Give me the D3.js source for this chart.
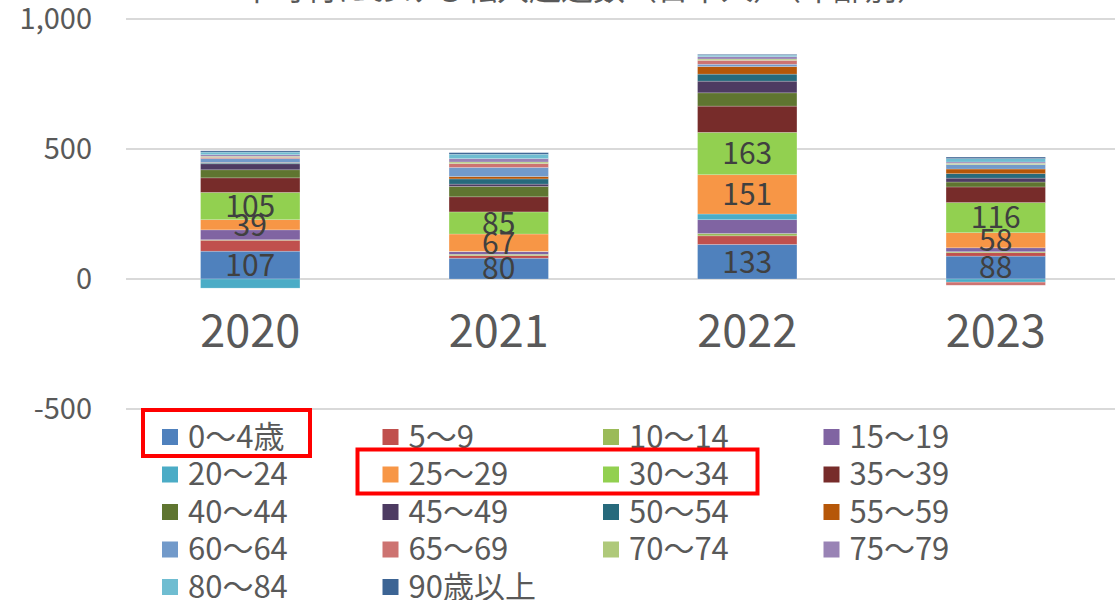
<!DOCTYPE html>
<html>
<head>
<meta charset="utf-8">
<script src="https://cdn.jsdelivr.net/npm/d3@7"></script>
<style>
  body { margin: 0; background: #fff; }
  text { font-family: "Noto Sans CJK JP", "Noto Sans", sans-serif; }
</style>
</head>
<body>
<script>
var years = ['2020', '2021', '2022', '2023'];
var ageGroups = ['0～4歳', '5～9', '10～14', '15～19', '20～24', '25～29', '30～34', '35～39',
  '40～44', '45～49', '50～54', '55～59', '60～64', '65～69', '70～74', '75～79', '80～84', '90歳以上'];
var colors = ['#4F81BD', '#C0504D', '#9BBB59', '#8064A2', '#4BACC6', '#F79646', '#92D050', '#772C2A',
  '#5F7530', '#4D3B62', '#276A7C', '#B65708', '#729ACA', '#CD7371', '#AFC97A', '#9983B5', '#6FBDD1', '#3C6494'];

// one array per age group, values for 2020..2023
var v0_4 = [107, 80, 133, 88];
var v5_9 = [42, 10, 33, 13];
var v10_14 = [2, 5, 9, 4];
var v15_19 = [38, 10, 53, 15];
var v20_24 = [-35, 1, 22, -12];
var v25_29 = [39, 67, 151, 58];
var v30_34 = [105, 85, 163, 116];
var v35_39 = [56, 58, 101, 60];
var v40_44 = [31, 40, 51, 19];
var v45_49 = [23, 9, 45, 15];
var v50_54 = [3, 20, 27, 17];
var v55_59 = [2, 9, 29, 18];
var v60_64 = [15, 35, 9, 17];
var v65_69 = [5, 15, 15, -12];
var v70_74 = [4, 6, 5, 5];
var v75_79 = [6, 13, 9, 5];
var v80_84 = [10, 17, 6, 13];
var v90plus = [5, 6, 3, 6];

var series = [v0_4, v5_9, v10_14, v15_19, v20_24, v25_29, v30_34, v35_39, v40_44,
  v45_49, v50_54, v55_59, v60_64, v65_69, v70_74, v75_79, v80_84, v90plus];
var labelled = [0, 5, 6]; // series that carry data labels

var yTicks = [-500, 0, 500, 1000];
var title = '市町村における転入超過数（日本人）（年齢別）';

var W = 1115, H = 600;
var svg = d3.select('body').append('svg')
  .attr('width', W)
  .attr('height', H);

var xScale = d3.scaleBand().domain(years).range([126, 1120]).paddingInner(0.6).paddingOuter(0.3);
var yScale = d3.scaleLinear().domain([-500, 1000]).range([409, 19]);

// table for d3.stack
var table = years.map(function(y, i) {
  var row = { year: y };
  series.forEach(function(s, k) { row[k] = s[i]; });
  return row;
});
var keys = series.map(function(s, k) { return k; });
var stacked = d3.stack().keys(keys).offset(d3.stackOffsetDiverging)(table);

// title (cut off at top in the reference)
svg.append('text')
  .attr('x', 585)
  .attr('y', 0)
  .attr('text-anchor', 'middle')
  .attr('font-size', 32)
  .attr('fill', '#595959')
  .text(title);

// grid lines
svg.append('g')
  .selectAll('line')
  .data(yTicks)
  .enter().append('line')
  .attr('x1', 126).attr('x2', W)
  .attr('y1', function(d) { return yScale(d); })
  .attr('y2', function(d) { return yScale(d); })
  .attr('stroke', '#d9d9d9')
  .attr('stroke-width', 2);

var fmt = d3.format(',');
var yAxis = svg.append('g')
  .attr('transform', 'translate(106,0)')
  .call(d3.axisLeft(yScale).tickValues(yTicks).tickSize(0).tickPadding(14)
    .tickFormat(function(d) { return fmt(d).replace('−', '-'); }));
yAxis.select('.domain').remove();
yAxis.selectAll('text')
  .attr('font-size', 29)
  .attr('fill', '#595959')
  .attr('font-family', '"Noto Sans CJK JP", sans-serif');

// bars
var layers = svg.append('g').selectAll('g')
  .data(stacked)
  .enter().append('g')
  .attr('fill', function(d) { return colors[d.key]; });

layers.selectAll('rect')
  .data(function(d) { return d; })
  .enter().append('rect')
  .attr('x', function(d) { return xScale(d.data.year); })
  .attr('width', xScale.bandwidth())
  .attr('y', function(d) { return yScale(Math.max(d[0], d[1])); })
  .attr('height', function(d) { return Math.abs(yScale(d[0]) - yScale(d[1])); })
  .attr('stroke', '#fff')
  .attr('stroke-opacity', 0.35)
  .attr('stroke-width', 0.6);

// data labels
labelled.forEach(function(k) {
  svg.append('g').selectAll('text')
    .data(stacked[k])
    .enter().append('text')
    .attr('x', function(d) { return xScale(d.data.year) + xScale.bandwidth() / 2; })
    .attr('y', function(d) { return yScale((d[0] + d[1]) / 2); })
    .attr('dy', '0.36em')
    .attr('text-anchor', 'middle')
    .attr('font-size', 30)
    .attr('fill', '#404040')
    .text(function(d) { return d.data[k]; });
});

// x axis labels
var xAxis = svg.append('g')
  .attr('transform', 'translate(0,' + yScale(0) + ')')
  .call(d3.axisBottom(xScale).tickSize(0).tickPadding(36));
xAxis.select('.domain').remove();
xAxis.selectAll('text')
  .attr('font-size', 45)
  .attr('fill', '#595959')
  .attr('font-family', '"Noto Sans CJK JP", sans-serif');

// legend
function colX(c) { return 162 + c * 220.5; }
function rowY(r) { return 437 + r * 37.5; }

var legend = svg.append('g').selectAll('g')
  .data(ageGroups)
  .enter().append('g')
  .attr('transform', function(d, i) { return 'translate(' + colX(i % 4) + ',' + rowY(Math.floor(i / 4)) + ')'; });

legend.append('rect')
  .attr('x', 0).attr('y', -8)
  .attr('width', 16).attr('height', 16)
  .attr('fill', function(d, i) { return colors[i]; });

legend.append('text')
  .attr('x', 26)
  .attr('y', 0)
  .attr('dy', '0.35em')
  .attr('font-size', 31)
  .attr('fill', '#595959')
  .text(function(d) { return d; });

// red highlight boxes
svg.append('rect')
  .attr('x', colX(0) - 19).attr('y', rowY(0) - 27)
  .attr('width', 167).attr('height', 46)
  .attr('fill', 'none').attr('stroke', '#ff0000').attr('stroke-width', 4);

svg.append('rect')
  .attr('x', colX(1) - 25).attr('y', rowY(1) - 25)
  .attr('width', 400).attr('height', 44)
  .attr('fill', 'none').attr('stroke', '#ff0000').attr('stroke-width', 4);
</script>
</body>
</html>
